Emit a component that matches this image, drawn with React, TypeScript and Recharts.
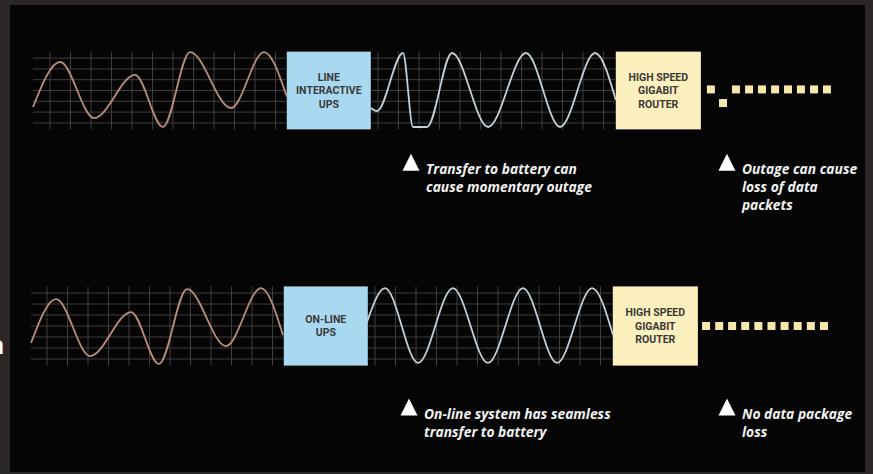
import { ComposedChart, Line, Scatter, XAxis, YAxis, ReferenceLine, ReferenceArea, ReferenceDot } from 'recharts'

// x: grid columns along the trace, y: grid rows (signal level)
const gridRows = [-3, -2, -1, 0, 1, 2, 3]
const gridColsLeft = [2, 3, 4, 5, 6, 7, 8, 9, 10, 11, 12, 13]
const gridColsRight = [18, 19, 20, 21, 22, 23, 24, 25, 26, 27, 28, 29]

const utilityTop = [
  { x: 1.17, y: -1.53 }, { x: 2.49, y: 2.64 }, { x: 4.15, y: -2.55 }, { x: 6.15, y: 1.44 },
  { x: 7.51, y: -3.38 }, { x: 8.83, y: 3.56 }, { x: 10.83, y: -1.62 }, { x: 12.44, y: 3.56 },
  { x: 13.56, y: -0.6 },
]
const upsOutTop = [
  { x: 17.66, y: -1.62 }, { x: 17.95, y: -1.9 }, { x: 19.22, y: 3.47 }, { x: 19.71, y: -3.38 },
  { x: 20.39, y: -3.38 }, { x: 21.61, y: 3.47 }, { x: 23.37, y: -3.38 }, { x: 25.22, y: 3.47 },
  { x: 26.88, y: -3.38 }, { x: 28.59, y: 3.47 }, { x: 29.6, y: -0.88 },
]
const utilityBottom = [
  { x: 1.22, y: -1.55 }, { x: 2.44, y: 2.45 }, { x: 4.1, y: -2.73 }, { x: 6.1, y: 1.27 },
  { x: 7.46, y: -3.45 }, { x: 8.83, y: 3.36 }, { x: 10.73, y: -1.82 }, { x: 12.44, y: 3.45 },
  { x: 13.51, y: -0.82 },
]
const upsOutBottom = [
  { x: 17.61, y: 0.36 }, { x: 18.49, y: 3.45 }, { x: 20.1, y: -3.36 }, { x: 21.8, y: 3.45 },
  { x: 23.51, y: -3.36 }, { x: 25.22, y: 3.45 }, { x: 26.88, y: -3.36 }, { x: 28.59, y: 3.45 },
  { x: 29.61, y: -0.82 },
]
const packetsTop = [
  { x: 34.24, y: 0.1 }, { x: 34.83, y: -1.16 }, { x: 35.46, y: 0.1 }, { x: 36.1, y: 0.1 },
  { x: 36.73, y: 0.1 }, { x: 37.37, y: 0.1 }, { x: 38.0, y: 0.1 }, { x: 38.63, y: 0.1 },
  { x: 39.27, y: 0.1 }, { x: 39.9, y: 0.1 },
]
const packetsBottom = [
  { x: 34.15, y: 0 }, { x: 34.79, y: 0 }, { x: 35.42, y: 0 }, { x: 36.06, y: 0 },
  { x: 36.7, y: 0 }, { x: 37.34, y: 0 }, { x: 37.98, y: 0 }, { x: 38.62, y: 0 },
  { x: 39.26, y: 0 }, { x: 39.9, y: 0 },
]

const upsBox = { x1: 13.55, x2: 17.65 }
const routerBox = { x1: 29.6, x2: 33.75 }

const topUpsLabel = ['LINE', 'INTERACTIVE', 'UPS']
const bottomUpsLabel = ['ON-LINE', 'UPS']
const routerLabel = ['HIGH SPEED', 'GIGABIT', 'ROUTER']

const topNotes = [
  { x: 19.61, lines: ['Transfer to battery can', 'cause momentary outage'] },
  { x: 35.02, lines: ['Outage can cause', 'loss of data', 'packets'] },
]
const bottomNotes = [
  { x: 19.66, lines: ['On-line system has seamless', 'transfer to battery'] },
  { x: 35.17, lines: ['No data package', 'loss'] },
]

const BOX_FONT = "'Liberation Sans Narrow', 'Roboto', sans-serif"
const NOTE_FONT = "'Open Sans', 'Noto Sans', sans-serif"

function boxShape(fill: string, lines: string[]) {
  return (props: any) => {
    const { x, y, width, height } = props
    const cx = x + width / 2
    const start = y + height / 2 - ((lines.length - 1) * 13.5) / 2 + 3.5
    return (
      <g>
        <rect x={x} y={y} width={width} height={height} fill={fill} />
        {lines.map((t, i) => (
          <text key={t} x={cx} y={start + i * 13.5} textAnchor="middle" fontFamily={BOX_FONT}
            fontWeight={700} fontSize={10.5} fill="#3a3836">{t}</text>
        ))}
      </g>
    )
  }
}

function noteShape(lines: string[], dy: number) {
  return (props: any) => {
    const { cx, cy } = props
    return (
      <g>
        <polygon points={`${cx - 8.5},${cy + 8} ${cx + 8.5},${cy + 8} ${cx},${cy - 9}`} fill="#ffffff" />
        {lines.map((t, i) => (
          <text key={t} x={cx + 15} y={cy + dy + i * 18} fontFamily={NOTE_FONT} fontStyle="italic"
            fontWeight={700} fontSize={13.8} fill="#f2f2f2">{t}</text>
        ))}
      </g>
    )
  }
}

const packetShape = (props: any) => (
  <rect x={props.cx - 4} y={props.cy - 4} width={8} height={8} fill="#f6e8ab" />
)

function Row({ utility, upsOut, packets, upsLabel, notes, noteY, noteDy, margin }: any) {
  return (
    <ComposedChart width={873} height={237} margin={margin}>
      <XAxis type="number" dataKey="x" domain={[0, 42]} hide />
      <YAxis type="number" dataKey="y" domain={[-13, 7]} hide />
      {gridRows.map(v => (
        <ReferenceLine key={'hl' + v} segment={[{ x: utility[0].x, y: v }, { x: upsBox.x1, y: v }]}
          stroke="#403e3e" strokeWidth={1} />
      ))}
      {gridRows.map(v => (
        <ReferenceLine key={'hr' + v} segment={[{ x: upsBox.x2, y: v }, { x: routerBox.x1, y: v }]}
          stroke="#403e3e" strokeWidth={1} />
      ))}
      {[...gridColsLeft, ...gridColsRight].map(c => (
        <ReferenceLine key={'v' + c} segment={[{ x: c, y: -3.6 }, { x: c, y: 3.6 }]}
          stroke="#403e3e" strokeWidth={1} />
      ))}
      <Line data={utility} dataKey="y" type="monotone" stroke="#bb8e7c" strokeWidth={1.8}
        dot={false} isAnimationActive={false} />
      <Line data={upsOut} dataKey="y" type="monotone" stroke="#c3d0d8" strokeWidth={1.8}
        dot={false} isAnimationActive={false} />
      <ReferenceArea x1={upsBox.x1} x2={upsBox.x2} y1={-3.6} y2={3.6}
        shape={boxShape('#a9d9f1', upsLabel)} />
      <ReferenceArea x1={routerBox.x1} x2={routerBox.x2} y1={-3.6} y2={3.6}
        shape={boxShape('#fcf0bf', routerLabel)} />
      <Scatter data={packets} dataKey="y" shape={packetShape} isAnimationActive={false} />
      {notes.map((n: any) => (
        <ReferenceDot key={n.lines[0]} x={n.x} y={noteY} r={0} shape={noteShape(n.lines, noteDy)} />
      ))}
    </ComposedChart>
  )
}

export default function App() {
  return (
    <div style={{ position: 'absolute', left: 0, top: 0, width: 873, height: 474, background: '#2b2727', overflow: 'hidden' }}>
      <div style={{ position: 'absolute', left: 10, top: 5, width: 855, height: 467, background: '#050505' }} />
      <span style={{ position: 'absolute', left: -12, top: 331, fontFamily: NOTE_FONT, fontSize: 26, fontWeight: 600, color: '#ffffff', lineHeight: 1 }}>n</span>
      <div style={{ position: 'absolute', left: 0, top: 0 }}>
        <Row utility={utilityTop} upsOut={upsOutTop} packets={packetsTop} upsLabel={topUpsLabel}
          notes={topNotes} noteY={-6.7} noteDy={11} margin={{ top: 14.9, bottom: 6.1, left: 9, right: 3 }} />
      </div>
      <div style={{ position: 'absolute', left: 0, top: 237 }}>
        <Row utility={utilityBottom} upsOut={upsOutBottom} packets={packetsBottom} upsLabel={bottomUpsLabel}
          notes={bottomNotes} noteY={-7.4} noteDy={12} margin={{ top: 12, bottom: 5, left: 6, right: 6 }} />
      </div>
    </div>
  )
}
